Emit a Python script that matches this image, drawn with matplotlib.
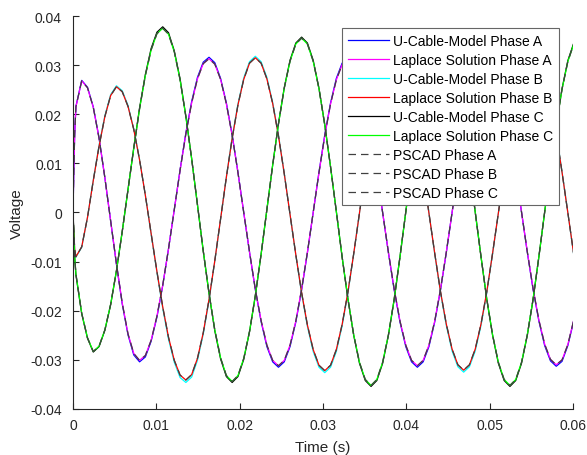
import numpy as np
import matplotlib.pyplot as plt

# sample times: three early samples, then a regular grid (15 deg steps at 60 Hz)
t_early = [0.0, 0.0001, 0.0002]
t_grid = 0.000347 + np.arange(87) / 1440.0
t = np.concatenate([t_early, t_grid])

# ---- Phase A ----
ucable_a = [0.0, 0.0090, 0.0160,
    0.0216, 0.0269, 0.0255, 0.0215, 0.0152, 0.0071, -0.0017, -0.0105, -0.0186, -0.0249,
    -0.0290, -0.0304, -0.0294, -0.0262, -0.0213, -0.0149, -0.0074, 0.0006, 0.0087, 0.0162,
    0.0226, 0.0275, 0.0306, 0.0316, 0.0305, 0.0273, 0.0223, 0.0158, 0.0082, 0.0000,
    -0.0081, -0.0157, -0.0222, -0.0273, -0.0304, -0.0315,
    -0.0304, -0.0273, -0.0223, -0.0158, -0.0082, 0.0000, 0.0082, 0.0158, 0.0223, 0.0273, 0.0304, 0.0315,
    0.0304, 0.0273, 0.0223, 0.0158, 0.0082, 0.0000, -0.0082, -0.0158, -0.0223, -0.0273, -0.0304, -0.0315,
    -0.0304, -0.0273, -0.0223, -0.0158, -0.0082, 0.0000, 0.0082, 0.0158, 0.0223, 0.0273, 0.0304, 0.0315,
    0.0304, 0.0273, 0.0223, 0.0158, 0.0082, 0.0001, -0.0081, -0.0157, -0.0221, -0.0271, -0.0302, -0.0313,
    -0.0303, -0.0271, -0.0222]
laplace_a = [0.0, 0.0090, 0.0160,
    0.0215, 0.0268, 0.0254, 0.0214, 0.0151, 0.0071, -0.0017, -0.0104, -0.0184, -0.0247,
    -0.0287, -0.0301, -0.0291, -0.0260, -0.0211, -0.0148, -0.0074, 0.0006, 0.0086, 0.0160,
    0.0223, 0.0272, 0.0303, 0.0313, 0.0302, 0.0271, 0.0221, 0.0157, 0.0081, 0.0000,
    -0.0080, -0.0156, -0.0220, -0.0270, -0.0301, -0.0312,
    -0.0301, -0.0270, -0.0221, -0.0156, -0.0081, 0.0000, 0.0081, 0.0156, 0.0221, 0.0270, 0.0301, 0.0312,
    0.0301, 0.0270, 0.0221, 0.0156, 0.0081, 0.0000, -0.0081, -0.0156, -0.0221, -0.0270, -0.0301, -0.0312,
    -0.0301, -0.0270, -0.0221, -0.0156, -0.0081, 0.0000, 0.0081, 0.0156, 0.0221, 0.0270, 0.0301, 0.0312,
    0.0301, 0.0270, 0.0221, 0.0157, 0.0081, 0.0001, -0.0080, -0.0155, -0.0219, -0.0268, -0.0299, -0.0310,
    -0.0300, -0.0269, -0.0220]

# ---- Phase B ----
ucable_b = [0.0, -0.0040, -0.0076,
    -0.0091, -0.0071, -0.0010, 0.0066, 0.0137, 0.0197, 0.0240, 0.0258, 0.0248, 0.0218,
    0.0170, 0.0108, 0.0035, -0.0044, -0.0122, -0.0195, -0.0258, -0.0305, -0.0336, -0.0346,
    -0.0335, -0.0301, -0.0248, -0.0179, -0.0099, -0.0013, 0.0073, 0.0153, 0.0221, 0.0274,
    0.0307, 0.0318, 0.0307, 0.0275, 0.0224, 0.0158, 0.0080, -0.0004, -0.0087, -0.0165,
    -0.0232, -0.0283, -0.0315, -0.0326, -0.0315, -0.0283, -0.0231, -0.0164, -0.0085, -0.0001,
    0.0083, 0.0162, 0.0229, 0.0281, 0.0313, 0.0324, 0.0313, 0.0281, 0.0229, 0.0162,
    0.0083, -0.0001, -0.0084, -0.0163, -0.0230, -0.0282, -0.0314, -0.0325, -0.0314, -0.0282,
    -0.0230, -0.0163, -0.0084, -0.0001, 0.0083, 0.0162, 0.0229, 0.0281, 0.0313, 0.0324,
    0.0313, 0.0281, 0.0229, 0.0162, 0.0083, 0.0000, -0.0084]
laplace_b = [0.0, -0.0040, -0.0075,
    -0.0090, -0.0070, -0.0010, 0.0065, 0.0135, 0.0195, 0.0238, 0.0256, 0.0246, 0.0216,
    0.0169, 0.0107, 0.0035, -0.0043, -0.0120, -0.0192, -0.0254, -0.0301, -0.0331, -0.0341,
    -0.0330, -0.0297, -0.0245, -0.0177, -0.0098, -0.0013, 0.0072, 0.0151, 0.0219, 0.0271,
    0.0304, 0.0315, 0.0304, 0.0272, 0.0222, 0.0156, 0.0079, -0.0004, -0.0086, -0.0163,
    -0.0229, -0.0279, -0.0311, -0.0322, -0.0311, -0.0279, -0.0228, -0.0162, -0.0084, -0.0001,
    0.0082, 0.0160, 0.0226, 0.0277, 0.0309, 0.0320, 0.0309, 0.0277, 0.0226, 0.0160,
    0.0082, -0.0001, -0.0083, -0.0161, -0.0227, -0.0278, -0.0310, -0.0321, -0.0310, -0.0278,
    -0.0227, -0.0161, -0.0083, -0.0001, 0.0082, 0.0160, 0.0226, 0.0277, 0.0309, 0.0320,
    0.0309, 0.0277, 0.0226, 0.0160, 0.0082, 0.0000, -0.0083]

# ---- Phase C ----
ucable_c = [0.0, -0.0050, -0.0092,
    -0.0127, -0.0206, -0.0256, -0.0284, -0.0273, -0.0240, -0.0188, -0.0119, -0.0039, 0.0047,
    0.0132, 0.0213, 0.0281, 0.0334, 0.0367, 0.0378, 0.0366, 0.0329, 0.0272, 0.0196,
    0.0110, 0.0016, -0.0078, -0.0165, -0.0241, -0.0298, -0.0334, -0.0346, -0.0334, -0.0299,
    -0.0243, -0.0170, -0.0085, 0.0006, 0.0097, 0.0181, 0.0254, 0.0310, 0.0345, 0.0357,
    0.0345, 0.0310, 0.0253, 0.0179, 0.0093, 0.0002, -0.0091, -0.0176, -0.0250, -0.0307,
    -0.0342, -0.0354, -0.0342, -0.0307, -0.0250, -0.0177, -0.0090, 0.0001, 0.0093, 0.0179,
    0.0252, 0.0309, 0.0344, 0.0356, 0.0344, 0.0309, 0.0252, 0.0179, 0.0093, 0.0001,
    -0.0090, -0.0177, -0.0250, -0.0307, -0.0342, -0.0354, -0.0342, -0.0307, -0.0250, -0.0177,
    -0.0090, 0.0001, 0.0093, 0.0179, 0.0252, 0.0309, 0.0344]
laplace_c = [0.0, -0.0050, -0.0090,
    -0.0125, -0.0205, -0.0255, -0.0283, -0.0272, -0.0239, -0.0187, -0.0119, -0.0039, 0.0046,
    0.0131, 0.0211, 0.0279, 0.0331, 0.0364, 0.0375, 0.0363, 0.0327, 0.0270, 0.0195,
    0.0109, 0.0016, -0.0078, -0.0164, -0.0239, -0.0296, -0.0332, -0.0344, -0.0332, -0.0297,
    -0.0242, -0.0169, -0.0085, 0.0006, 0.0096, 0.0180, 0.0253, 0.0308, 0.0343, 0.0355,
    0.0343, 0.0308, 0.0252, 0.0178, 0.0093, 0.0002, -0.0090, -0.0175, -0.0249, -0.0305,
    -0.0340, -0.0352, -0.0340, -0.0305, -0.0249, -0.0176, -0.0090, 0.0001, 0.0092, 0.0178,
    0.0251, 0.0307, 0.0342, 0.0354, 0.0342, 0.0307, 0.0251, 0.0178, 0.0092, 0.0001,
    -0.0090, -0.0176, -0.0249, -0.0305, -0.0340, -0.0352, -0.0340, -0.0305, -0.0249, -0.0176,
    -0.0090, 0.0001, 0.0092, 0.0178, 0.0251, 0.0307, 0.0342]

# PSCAD traces lie on top of the Laplace solution
pscad_a = laplace_a
pscad_b = laplace_b
pscad_c = laplace_c

labels = ['U-Cable-Model Phase A', 'Laplace Solution Phase A',
          'U-Cable-Model Phase B', 'Laplace Solution Phase B',
          'U-Cable-Model Phase C', 'Laplace Solution Phase C',
          'PSCAD Phase A', 'PSCAD Phase B', 'PSCAD Phase C']

x_ticks = [0, 0.01, 0.02, 0.03, 0.04, 0.05, 0.06]
x_ticklabels = ['0', '0.01', '0.02', '0.03', '0.04', '0.05', '0.06']
y_ticks = [-0.04, -0.03, -0.02, -0.01, 0, 0.01, 0.02, 0.03, 0.04]
y_ticklabels = ['-0.04', '-0.03', '-0.02', '-0.01', '0', '0.01', '0.02', '0.03', '0.04']

plt.rcParams['font.family'] = ['Liberation Sans', 'DejaVu Sans']
plt.rcParams['axes.unicode_minus'] = False

fig = plt.figure(figsize=(5.87, 4.56), dpi=100)
ax = fig.add_axes([0.1244, 0.1009, 0.8518, 0.8618])

lw = 0.9
ax.plot(t, ucable_a, color='#0000ff', lw=lw, label=labels[0])
ax.plot(t, laplace_a, color='#ff00ff', lw=lw, label=labels[1])
ax.plot(t, ucable_b, color='#00ffff', lw=lw, label=labels[2])
ax.plot(t, laplace_b, color='#ff0000', lw=lw, label=labels[3])
ax.plot(t, ucable_c, color='#000000', lw=lw, label=labels[4])
ax.plot(t, laplace_c, color='#00ff00', lw=lw, label=labels[5])
dash = (0, (6, 4))
ax.plot(t, pscad_a, color='#404040', lw=lw, ls=dash, label=labels[6])
ax.plot(t, pscad_b, color='#404040', lw=lw, ls=dash, label=labels[7])
ax.plot(t, pscad_c, color='#404040', lw=lw, ls=dash, label=labels[8])

ax.set_xlim(0, 0.06)
ax.set_ylim(-0.04, 0.04)
ax.set_xticks(x_ticks)
ax.set_xticklabels(x_ticklabels)
ax.set_yticks(y_ticks)
ax.set_yticklabels(y_ticklabels)

for side in ['top', 'right']:
    ax.spines[side].set_visible(False)
for side in ['left', 'bottom']:
    ax.spines[side].set_color('#262626')
    ax.spines[side].set_linewidth(0.8)

ax.tick_params(axis='both', direction='in', length=4, width=0.8,
               color='#262626', labelcolor='#262626', labelsize=10)
ax.tick_params(axis='x', pad=6.5)
ax.tick_params(axis='y', pad=8)

ax.set_xlabel('Time (s)', fontsize=11, color='#262626')
ax.set_ylabel('Voltage', fontsize=11, color='#262626')
ax.xaxis.set_label_coords(0.5, -0.079)
ax.yaxis.set_label_coords(-0.098, 0.5)

leg = ax.legend(loc='upper right', bbox_to_anchor=(0.972, 0.9695), borderaxespad=0,
                fontsize=10, frameon=True, fancybox=False, framealpha=1,
                handlelength=3.0, handletextpad=0.3, labelspacing=0.36,
                borderpad=0.4)
leg.get_frame().set_edgecolor('#666666')
leg.get_frame().set_linewidth(0.8)

fig.savefig('out.png', dpi=100)
